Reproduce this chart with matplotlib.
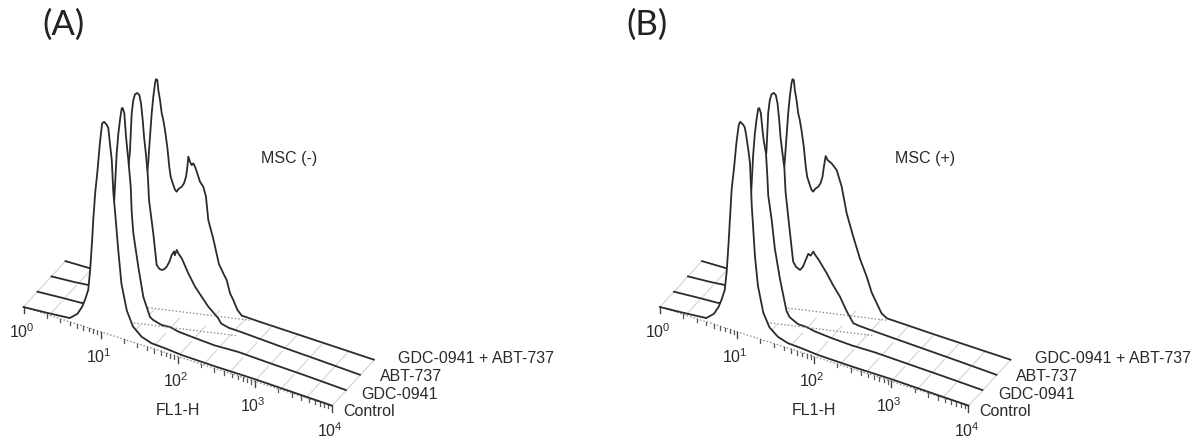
import numpy as np
import matplotlib
matplotlib.use("Agg")
import matplotlib.pyplot as plt
from matplotlib.patches import Polygon

plt.rcParams['font.family'] = ['Liberation Sans', 'DejaVu Sans']
plt.rcParams['mathtext.fontset'] = 'custom'
plt.rcParams['mathtext.rm'] = 'Liberation Sans'
plt.rcParams['mathtext.it'] = 'Liberation Sans:italic'
plt.rcParams['mathtext.bf'] = 'Liberation Sans:bold'

# ------------------------------------------------------------------ data
series_names = ["Control", "GDC-0941", "ABT-737", "GDC-0941 + ABT-737"]
panel_tags = ["(A)", "(B)"]
panel_conditions = ["MSC (-)", "MSC (+)"]
axis_title = "FL1-H"
decades = [0, 1, 2, 3, 4]          # log10(FL1-H) of the labelled ticks

# panel A (MSC -): log10(FL1-H) positions and counts (% of modal channel)
a_ctrl_log = [0, 0.3, 0.6, 0.7, 0.76, 0.8, 0.84, 0.865, 0.89, 0.905, 0.93, 0.96, 0.99, 1.02,
              1.045, 1.08, 1.10, 1.12, 1.145, 1.165, 1.19, 1.23, 1.27, 1.34, 1.42, 1.53, 1.66,
              1.83, 2.05, 2.5, 3.0, 3.5, 4.0]
a_ctrl_pct = [0, 0.8, 1.8, 5, 9, 13, 18, 28, 42, 52, 65, 76, 89, 99,
              100, 99, 97.7, 91, 83, 68, 58, 41, 26, 14, 7.4, 3.9, 2.3,
              2.0, 1.3, 1.0, 1.0, 0.6, 0.2]

a_gdc_log = [0, 0.3, 0.58, 0.7, 0.8, 0.88, 0.94, 0.983, 1.027, 1.048, 1.07, 1.092, 1.105, 1.126,
             1.148, 1.165, 1.19, 1.209, 1.222, 1.243, 1.307, 1.372, 1.459, 1.50, 1.61, 1.72, 1.83,
             2.04, 2.3, 2.6, 3.0, 3.5, 4.0]
a_gdc_pct = [0, 0.8, 1.4, 4, 12, 24, 36, 46, 77.6, 87, 94, 99.7, 100, 97.8,
             87, 80.8, 71.7, 63.9, 52, 42.3, 27.2, 13.7, 5.1, 4.2, 3.1, 3.4, 2.5,
             2.0, 1.5, 2.0, 1.5, 1.0, 0.3]

a_abt_log = [0, 0.3, 0.47, 0.6, 0.75, 0.85, 0.92, 0.97, 1.018, 1.04, 1.061, 1.083, 1.113, 1.139,
             1.161, 1.183, 1.20, 1.226, 1.25, 1.265, 1.32, 1.364, 1.40, 1.429, 1.46, 1.494, 1.53,
             1.559, 1.59, 1.60, 1.624, 1.65, 1.689, 1.774, 1.861, 1.948, 2.034, 2.10, 2.163, 2.20,
             2.3, 2.45, 3.0, 3.5, 4.0]
a_abt_pct = [0, 0.8, 1.5, 2.5, 8, 20, 35, 52, 71.6, 89.5, 96, 99, 100, 99.3,
             95.6, 88, 80.3, 71.9, 62, 51, 35.9, 21.4, 20, 19.8, 20.5, 22.1, 25,
             28.4, 30.5, 28.8, 31.6, 30, 28.4, 22.3, 17, 13.2, 9.5, 7.5, 5.5, 3.5,
             2.6, 2.5, 1.6, 1.0, 0.3]

a_combo_log = [0, 0.3, 0.6, 0.8, 0.9, 1.0, 1.05, 1.074, 1.096, 1.118, 1.139, 1.161, 1.174, 1.191,
               1.204, 1.226, 1.248, 1.268, 1.29, 1.32, 1.346, 1.364, 1.398, 1.42, 1.442, 1.46,
               1.476, 1.507, 1.537, 1.563, 1.58, 1.593, 1.615, 1.637, 1.658, 1.68, 1.709, 1.744,
               1.787, 1.822, 1.852, 1.917, 1.99, 2.047, 2.091, 2.134, 2.176, 2.23, 2.285, 2.5,
               3.0, 3.5, 4.0]
a_combo_pct = [0, 0.3, 1.5, 6, 16, 36, 50, 60, 71.8, 83.2, 91.3, 97.9, 100, 99.8,
               95.2, 90.7, 84.7, 81.8, 77.3, 69.7, 60.5, 56, 52.5, 50.5, 49.8, 51,
               51.8, 52.9, 54.9, 58.3, 63, 68.2, 66, 64.7, 65.8, 64.4, 61.7, 58.1,
               56.2, 51.9, 41.2, 33, 22, 18.2, 15.5, 9.8, 7.1, 3, 1.0, 0.8,
               0.6, 0.4, 0.2]

# panel B (MSC +)
b_ctrl_log = [0, 0.3, 0.6, 0.7, 0.76, 0.8, 0.84, 0.865, 0.89, 0.905, 0.93, 0.96, 0.99, 1.02,
              1.04, 1.08, 1.10, 1.12, 1.145, 1.167, 1.19, 1.232, 1.27, 1.34, 1.42, 1.53, 1.66,
              1.83, 2.05, 2.5, 3.0, 3.5, 4.0]
b_ctrl_pct = [0, 0.8, 1.8, 5, 9, 13, 18, 27, 41, 51, 67, 77, 89, 98,
              100, 99, 98, 94, 88, 82, 62, 38.3, 25, 13, 7, 3.8, 2.3,
              2.0, 1.3, 1.0, 1.0, 0.6, 0.2]

b_gdc_log = [0, 0.3, 0.58, 0.7, 0.8, 0.88, 0.94, 0.983, 1.027, 1.048, 1.07, 1.092, 1.105, 1.126,
             1.148, 1.165, 1.193, 1.209, 1.222, 1.267, 1.307, 1.375, 1.459, 1.50, 1.61, 1.72, 1.83,
             2.04, 2.3, 2.6, 3.0, 3.5, 4.0]
b_gdc_pct = [0, 0.8, 1.4, 4, 12, 24, 36, 46, 77, 87, 94, 99.5, 100, 98,
             90, 85, 79.6, 70, 60, 48.9, 36, 22, 8, 5.5, 3.5, 3.4, 2.6,
             2.0, 1.6, 1.8, 1.4, 0.9, 0.3]

b_abt_log = [0, 0.3, 0.47, 0.6, 0.75, 0.85, 0.92, 0.97, 1.018, 1.04, 1.061, 1.083, 1.113, 1.139,
             1.161, 1.183, 1.20, 1.236, 1.25, 1.265, 1.32, 1.364, 1.40, 1.453, 1.49, 1.53, 1.56,
             1.59, 1.625, 1.65, 1.69, 1.799, 1.88, 1.971, 2.06, 2.144, 2.22, 2.35, 2.5, 3.0,
             3.5, 4.0]
b_abt_pct = [0, 0.8, 1.5, 2.5, 8, 20, 35, 52, 71.6, 89.5, 96, 99, 100, 99.3,
             95.6, 88, 80, 69.7, 66, 55, 37, 23, 21, 20.1, 22, 26, 29,
             28.5, 30.8, 29.5, 28, 22.6, 18, 13.5, 7.5, 3, 2.6, 2.4, 2.2, 1.6,
             1.0, 0.3]

b_combo_log = [0, 0.3, 0.6, 0.8, 0.9, 1.0, 1.05, 1.074, 1.096, 1.118, 1.139, 1.161, 1.174, 1.191,
               1.204, 1.226, 1.248, 1.268, 1.29, 1.32, 1.346, 1.364, 1.398, 1.42, 1.442, 1.46,
               1.476, 1.507, 1.537, 1.563, 1.58, 1.604, 1.63, 1.682, 1.71, 1.747, 1.78, 1.812,
               1.877, 1.962, 2.05, 2.136, 2.2, 2.266, 2.33, 2.4, 3.0, 3.5, 4.0]
b_combo_pct = [0, 0.3, 1.5, 6, 16, 36, 50, 60, 71.8, 83.2, 91.3, 97.9, 100, 99.8,
               95.2, 90.7, 84.7, 81.8, 77.3, 69.7, 60.5, 56, 52.5, 50.5, 49.8, 51,
               51.8, 52.9, 54.9, 58.3, 63, 68.6, 67, 66, 65, 63.6, 60, 56.5,
               44.6, 34.6, 25, 17.7, 11, 6.6, 2.5, 1.0, 0.6, 0.4, 0.2]

panel_logs = [[a_ctrl_log, a_gdc_log, a_abt_log, a_combo_log],
              [b_ctrl_log, b_gdc_log, b_abt_log, b_combo_log]]
panel_pcts = [[a_ctrl_pct, a_gdc_pct, a_abt_pct, a_combo_pct],
              [b_ctrl_pct, b_gdc_pct, b_abt_pct, b_combo_pct]]

# ------------------------------------------------------------------ layout / projection
W, H = 1203, 443
ORIGIN_X = [23.5, 660.0]
ORIGIN_Y = 307.0
EXX, EXY = 77.1, 24.75      # one decade along FL1-H
EDX, EDY = 14.0, -15.3      # one step in depth (series)
HPX = 2.11                  # pixels per % of max
TAG_POS = [(63, 25), (647, 25)]

LINE_C = '#2b2b2b'
GRID_C = '#d2d2d2'
DOT_C = '#8a8a8a'
TEXT_C = '#2a2a2a'


def proj(p, u, k, h=0.0):
    u = np.asarray(u, float)
    k = np.asarray(k, float)
    h = np.asarray(h, float)
    return ORIGIN_X[p] + EXX * u + EDX * k, ORIGIN_Y + EXY * u + EDY * k - HPX * h


fig = plt.figure(figsize=(W / 100, H / 100), dpi=100)
ax = fig.add_axes([0, 0, 1, 1])
ax.set_xlim(0, W)
ax.set_ylim(H, 0)
ax.axis('off')

for p in range(2):
    nser = len(series_names)
    # floor grid along the depth direction every 1/3 decade
    for n in range(13):
        u = n / 3.0
        xs, ys = proj(p, [u, u], [0, nser - 1])
        ax.plot(xs, ys, color=GRID_C, lw=0.8, zorder=1)

    z = 2
    for k in range(nser - 1, -1, -1):
        u = np.array(panel_logs[p][k], float)
        h = np.array(panel_pcts[p][k], float)
        cx, cy = proj(p, u, k, h)
        bx, by = proj(p, u[::-1], k, 0 * u)
        poly = Polygon(np.column_stack([np.r_[cx, bx], np.r_[cy, by]]), closed=True,
                       fc='white', ec='none', zorder=z)
        ax.add_patch(poly)
        if k == 0:
            # front FL1-H axis: dotted line with ticks
            xs, ys = proj(p, [decades[0], decades[-1]], [0, 0])
            ax.plot(xs, ys, color=DOT_C, lw=0.9, ls=(0, (1.2, 1.6)), zorder=z + 0.5)
            for d in decades:
                tx, ty = proj(p, d, 0)
                ax.plot([tx, tx], [ty, ty + 6], color='#444444', lw=1.0, zorder=z + 0.5)
                ax.text(tx - 2, ty + 24.5, r'$\mathregular{10^{%d}}$' % d, ha='center',
                        va='center', fontsize=11.5, color=TEXT_C, zorder=20)
                if d < decades[-1]:
                    for m in range(2, 10):
                        mx, my = proj(p, d + np.log10(m), 0)
                        ax.plot([mx, mx], [my, my + 3.5], color='#555555', lw=0.9,
                                zorder=z + 0.5)
        ax.plot(cx, cy, color=LINE_C, lw=1.3, zorder=z + 1, solid_joinstyle='round')
        # label at the end of each ribbon
        ex, ey = proj(p, decades[-1], k)
        ax.text(ex + 11 + 4.5 * k, ey + 6 - 2.5 * k, series_names[k], ha='left', va='center',
                fontsize=11.5, color=TEXT_C, zorder=20)
        # diagonal dotted floor guide, drawn between ribbons k and k-1
        if k in (1, 2):
            j = k - 1
            xs, ys = proj(p, [0.71, 2.39], [j + 0.5, j + 2])
            ax.plot(xs, ys, color=DOT_C, lw=0.9, ls=(0, (1.2, 1.6)), zorder=z + 1.5)
        z += 3

    # texts
    fx, fy = proj(p, 2, 0)
    ax.text(fx, fy + 54, axis_title, ha='center', va='center', fontsize=11.5, color=TEXT_C)
    ax.text(ORIGIN_X[p] + 265.5, ORIGIN_Y - 149, panel_conditions[p], ha='center',
            va='center', fontsize=11.5, color=TEXT_C)
    ax.text(TAG_POS[p][0], TAG_POS[p][1], panel_tags[p], ha='center', va='center',
            fontsize=25, color='#222222', family=['Lato', 'DejaVu Sans'])

fig.savefig('out.png', dpi=100, facecolor='white')
